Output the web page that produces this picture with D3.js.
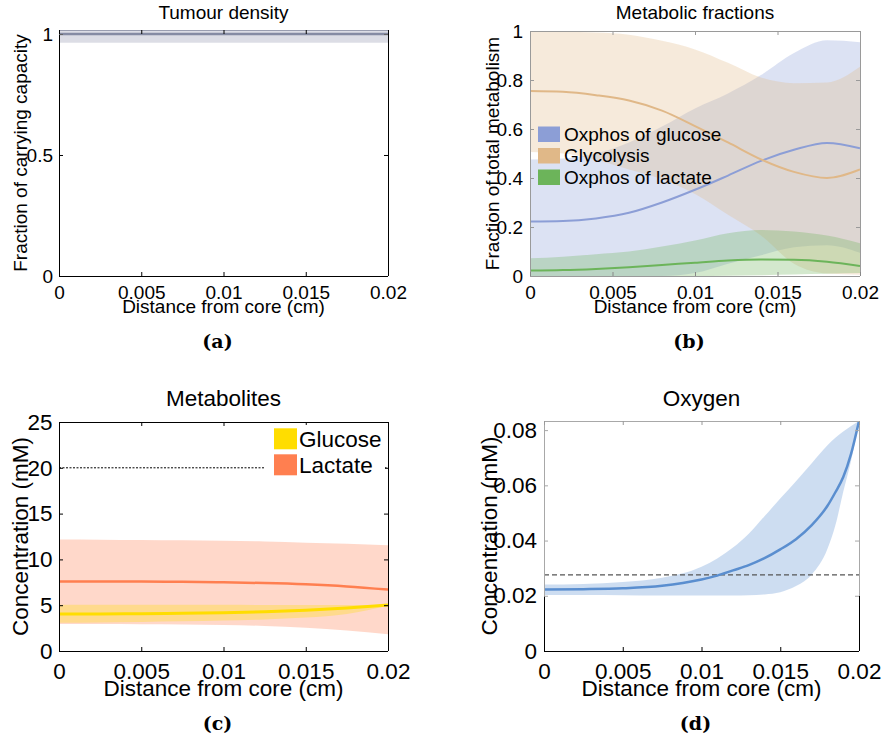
<!DOCTYPE html>
<html><head><meta charset="utf-8">
<script src="https://cdn.jsdelivr.net/npm/d3@7"></script>
<style>
html,body{margin:0;padding:0;background:#fff;}
svg{display:block;}
text{font-family:"Liberation Sans",Arial,Helvetica,sans-serif;fill:#000;}
.sub{font-family:"DejaVu Serif",serif;font-weight:bold;}
</style></head>
<body>
<svg id="chart" width="883" height="744"></svg>
<script>
// ---------------- DATA ----------------
const xTickValues = [0, 0.005, 0.01, 0.015, 0.02];
const xTickLabels = ["0", "0.005", "0.01", "0.015", "0.02"];

// (a) Tumour density
const densX     = [0, 0.005, 0.01, 0.015, 0.02];
const densMean  = [1, 1, 1, 1, 1];
const densUpper = [1.03, 1.03, 1.03, 1.03, 1.03];
const densLower = [0.964, 0.964, 0.964, 0.964, 0.964];
const densYTicks = [0, 0.5, 1];
const densYLabels = ["0", "0.5", "1"];

// (b) Metabolic fractions
const metX = [0, 0.002, 0.004, 0.006, 0.008, 0.01, 0.012, 0.014, 0.016, 0.018, 0.02];
const oxGluMean  = [0.222, 0.224, 0.235, 0.258, 0.300, 0.352, 0.410, 0.470, 0.515, 0.543, 0.521];
const oxGluUpper = [0.476, 0.480, 0.500, 0.545, 0.610, 0.684, 0.745, 0.820, 0.910, 0.962, 0.954];
const oxGluLower = [0, 0, 0, 0, 0, 0.012, 0.050, 0.085, 0.117, 0.126, 0.095];
const glyMean    = [0.755, 0.752, 0.738, 0.716, 0.675, 0.612, 0.545, 0.476, 0.425, 0.400, 0.435];
const glyUpper   = [1.0, 0.998, 0.994, 0.985, 0.960, 0.925, 0.870, 0.810, 0.787, 0.790, 0.854];
const glyLower   = [0.506, 0.500, 0.475, 0.435, 0.395, 0.335, 0.250, 0.165, 0.050, 0.010, 0.005];
const oxLacMean  = [0.022, 0.024, 0.029, 0.036, 0.045, 0.054, 0.063, 0.067, 0.066, 0.058, 0.041];
const oxLacUpper = [0.072, 0.079, 0.089, 0.100, 0.120, 0.145, 0.175, 0.188, 0.182, 0.165, 0.134];
const oxLacLower = [0, 0, 0, 0, 0, 0, 0.001, 0.003, 0.006, 0.009, 0.012];
const metSeries  = ["Oxphos of glucose", "Glycolysis", "Oxphos of lactate"];
const metYTicks  = [0, 0.2, 0.4, 0.6, 0.8, 1];
const metYLabels = ["0", "0.2", "0.4", "0.6", "0.8", "1"];

// (c) Metabolites
const mX = [0, 0.0025, 0.005, 0.0075, 0.01, 0.0125, 0.015, 0.0175, 0.02];
const lacMean  = [7.60, 7.60, 7.58, 7.55, 7.50, 7.42, 7.28, 7.05, 6.70];
const lacUpper = [12.17, 12.15, 12.12, 12.08, 12.03, 11.95, 11.83, 11.70, 11.55];
const lacLower = [2.95, 2.94, 2.92, 2.89, 2.84, 2.74, 2.55, 2.25, 1.82];
const gluMean  = [4.03, 4.04, 4.07, 4.12, 4.18, 4.28, 4.45, 4.70, 5.02];
const gluUpper = [5.05, 5.05, 5.05, 5.04, 5.04, 5.03, 5.02, 5.02, 5.02];
const gluLower = [3.09, 3.12, 3.17, 3.24, 3.32, 3.45, 3.66, 4.05, 4.95];
const mSeries  = ["Glucose", "Lactate"];
const glucoseRef = 20;
const mYTicks  = [0, 5, 10, 15, 20, 25];
const mYLabels = ["0", "5", "10", "15", "20", "25"];

// (d) Oxygen
const oX = [0, 0.0025, 0.005, 0.0075, 0.01, 0.011, 0.012, 0.013, 0.014, 0.015, 0.016, 0.017, 0.018, 0.0185, 0.019, 0.0195, 0.02];
const oxyMean  = [0.0223, 0.0224, 0.0227, 0.0236, 0.0259, 0.0273, 0.0292, 0.0311, 0.0336, 0.0368, 0.0405, 0.0456, 0.0526, 0.0575, 0.0630, 0.0715, 0.0833];
const oxyUpper = [0.0241, 0.0243, 0.0250, 0.0265, 0.0305, 0.0335, 0.0375, 0.0425, 0.0488, 0.0552, 0.0615, 0.0680, 0.0745, 0.0772, 0.0795, 0.0815, 0.0833];
const oxyLower = [0.0203, 0.0203, 0.0202, 0.0201, 0.0201, 0.0201, 0.0201, 0.0202, 0.0205, 0.0213, 0.0235, 0.0277, 0.0370, 0.0455, 0.0577, 0.0690, 0.0830];
const oxyRef = 0.0276;
const oYTicks  = [0, 0.02, 0.04, 0.06, 0.08];
const oYLabels = ["0", "0.02", "0.04", "0.06", "0.08"];

// ---------------- DRAWING ----------------
const svg = d3.select("#chart");
const defs = svg.append("defs");
let clipId = 0;

function makePanel(o) {
  const x = d3.scaleLinear().domain([0, 0.02]).range([o.left, o.right]);
  const y = d3.scaleLinear().domain(o.yDomain).range([o.bottom, o.top]);
  const id = "clip" + (clipId++);
  defs.append("clipPath").attr("id", id).append("rect")
    .attr("x", o.left).attr("y", o.top).attr("width", o.right - o.left).attr("height", o.bottom - o.top);
  const plot = svg.append("g").attr("clip-path", `url(#${id})`);
  return {x, y, plot, o};
}

function band(p, xs, lo, hi, color, op) {
  const area = d3.area().x((d, i) => p.x(xs[i])).y0((d, i) => p.y(lo[i])).y1((d, i) => p.y(hi[i]))
    .curve(d3.curveMonotoneX);
  p.plot.append("path").attr("d", area(xs)).attr("fill", color).attr("fill-opacity", op);
}
function line(p, xs, ys, color, w, dash) {
  const l = d3.line().x((d, i) => p.x(xs[i])).y((d, i) => p.y(ys[i])).curve(d3.curveMonotoneX);
  const el = p.plot.append("path").attr("d", l(xs)).attr("fill", "none").attr("stroke", color).attr("stroke-width", w);
  if (dash) el.attr("stroke-dasharray", dash);
  return el;
}

function axes(p, yTicks, yLabels, fs, xPad, yPad, spineColor, tickColorFn) {
  const o = p.o;
  const tc = tickColorFn || (() => spineColor);
  const gx = svg.append("g").attr("transform", `translate(0,${o.bottom})`)
    .call(d3.axisBottom(p.x).tickValues(xTickValues).tickFormat((d, i) => xTickLabels[i]).tickSize(-4).tickPadding(xPad));
  const gy = svg.append("g").attr("transform", `translate(${o.left},0)`)
    .call(d3.axisLeft(p.y).tickValues(yTicks).tickFormat((d, i) => yLabels[i]).tickSize(-4).tickPadding(yPad));
  const gt = svg.append("g").attr("transform", `translate(0,${o.top})`)
    .call(d3.axisTop(p.x).tickValues(xTickValues).tickFormat("").tickSize(-4));
  const gr = svg.append("g").attr("transform", `translate(${o.right},0)`)
    .call(d3.axisRight(p.y).tickValues(yTicks).tickFormat("").tickSize(-4));
  [gx, gy, gt, gr].forEach(g => {
    g.select(".domain").remove();
    g.selectAll("text").style("font-size", fs + "px").style("font-family", '"Liberation Sans",Arial,sans-serif').attr("fill", "#000");
  });
  gx.selectAll(".tick line").attr("stroke", o.bottomTick || "#000");
  gt.selectAll(".tick line").attr("stroke", o.topTick || spineColor);
  gy.selectAll(".tick line").attr("stroke", d => tc(d));
  gr.selectAll(".tick line").attr("stroke", d => tc(d));
}

function spine(x1, y1, x2, y2, c) {
  svg.append("line").attr("x1", x1).attr("y1", y1).attr("x2", x2).attr("y2", y2)
    .attr("stroke", c).attr("stroke-width", 1).attr("shape-rendering", "crispEdges");
}

function labels(p, title, titleY, xlab, xlabY, ylab, ylabX, sub, subY, fs) {
  const o = p.o;
  const cx = (o.left + o.right) / 2;
  svg.append("text").attr("x", cx).attr("y", titleY).attr("text-anchor", "middle").style("font-size", fs + "px").text(title);
  svg.append("text").attr("x", cx).attr("y", xlabY).attr("text-anchor", "middle").style("font-size", fs + "px").text(xlab);
  const cy = (o.top + o.bottom) / 2;
  svg.append("text").attr("transform", `translate(${ylabX},${cy}) rotate(-90)`).attr("text-anchor", "middle")
    .style("font-size", fs + "px").text(ylab);
  svg.append("text").attr("class", "sub").attr("x", cx - 6).attr("y", subY).attr("text-anchor", "middle")
    .style("font-size", "19px").text(sub);
}

const XLAB = "Distance from core (cm)";

// ---- (a)
{
  const p = makePanel({left: 59, right: 388, top: 30, bottom: 276, yDomain: [0, 1.0165]});
  spine(59, 30, 59, 276, "#000"); spine(59, 276, 388, 276, "#000"); spine(388, 30, 388, 276, "#000");
  band(p, densX, densLower, densUpper, "#8a90a8", 0.3);
  spine(59, 30.5, 388, 30.5, "#9a9eb0");
  line(p, densX, densMean, "#858ba3", 2.5);
  axes(p, densYTicks, densYLabels, 19, 10, 6, "#000", d => d >= 0.99 ? "#666" : "#000");
  labels(p, "Tumour density", 19, XLAB, 313, "Fraction of carrying capacity", 27, "(a)", 348, 19);
}

// ---- (b)
{
  const p = makePanel({left: 530, right: 860, top: 31, bottom: 276, yDomain: [0, 1], bottomTick: "#888"});
  const blue = "#8c9ed6", orange = "#e0b888", green = "#6cb45a";
  band(p, metX, oxGluLower, oxGluUpper, blue, 0.3);
  band(p, metX, glyLower, glyUpper, orange, 0.3);
  band(p, metX, oxLacLower, oxLacUpper, green, 0.3);
  line(p, metX, oxGluMean, blue, 2);
  line(p, metX, glyMean, orange, 2);
  line(p, metX, oxLacMean, green, 2);
  const sc = "#9a9a9a";
  spine(530, 31, 860, 31, sc); spine(530, 31, 530, 276, sc); spine(860, 31, 860, 276, sc); spine(530, 276, 860, 276, sc);
  axes(p, metYTicks, metYLabels, 19, 10, 7, sc);
  labels(p, "Metabolic fractions", 19, XLAB, 313, "Fraction of total metabolism", 499, "(b)", 348, 19);
  const cols = [blue, orange, green];
  const lg = svg.append("g");
  metSeries.forEach((s, i) => {
    const yy = 126.5 + i * 21.5;
    lg.append("rect").attr("x", 538).attr("y", yy).attr("width", 22).attr("height", 15.5).attr("fill", cols[i]);
    lg.append("text").attr("x", 564).attr("y", yy + 14).style("font-size", "19px").text(s);
  });
}

// ---- (c)
{
  const p = makePanel({left: 59, right: 388, top: 422, bottom: 651, yDomain: [0, 25]});
  const gold = "#ffdd00", coral = "#ff7f50";
  spine(59, 422, 388, 422, "#000"); spine(59, 422, 59, 651, "#000"); spine(388, 422, 388, 651, "#000"); spine(59, 651, 388, 651, "#000");
  line(p, [0, 0.02], [glucoseRef, glucoseRef], "#000", 1, "2,1.5");
  band(p, mX, lacLower, lacUpper, coral, 0.3);
  band(p, mX, gluLower, gluUpper, gold, 0.3);
  line(p, mX, lacMean, coral, 2.5);
  line(p, mX, gluMean, gold, 3);
  axes(p, mYTicks, mYLabels, 22.5, 12, 6.5, "#000");
  labels(p, "Metabolites", 406, XLAB, 696, "Concentration (mM)", 28, "(c)", 730, 22.5);
  svg.append("rect").attr("x", 265).attr("y", 425).attr("width", 120).attr("height", 53).attr("fill", "#fff");
  const cols = [gold, coral];
  mSeries.forEach((s, i) => {
    const yy = 428.3 + i * 26;
    svg.append("rect").attr("x", 274).attr("y", yy).attr("width", 23).attr("height", 21).attr("fill", cols[i]);
    svg.append("text").attr("x", 299).attr("y", yy + 18.5).style("font-size", "22.5px").text(s);
  });
}

// ---- (d)
{
  const p = makePanel({left: 544, right: 859, top: 421, bottom: 651, yDomain: [0, 0.0833], topTick: "#999"});
  const c = "#5a8ecf";
  const split = p.y(d3.min(oxyLower));
  band(p, oX, oxyLower, oxyUpper, c, 0.3);
  line(p, [0, 0.02], [oxyRef, oxyRef], "#555", 1.2, "5,3");
  line(p, oX, oxyMean, c, 2.5);
  const g = "#a8a8a8";
  spine(544, 421, 859, 421, g);
  spine(544, 421, 544, split, g); spine(544, split, 544, 651, "#000");
  spine(859, 421, 859, split, g); spine(859, split, 859, 651, "#000");
  spine(544, 651, 859, 651, "#000");
  axes(p, oYTicks, oYLabels, 22.5, 12, 7, "#000", d => d > 0.019 ? g : "#000");
  labels(p, "Oxygen", 406, XLAB, 696, "Concentration (mM)", 497, "(d)", 730, 22.5);
}
</script>
</body></html>
